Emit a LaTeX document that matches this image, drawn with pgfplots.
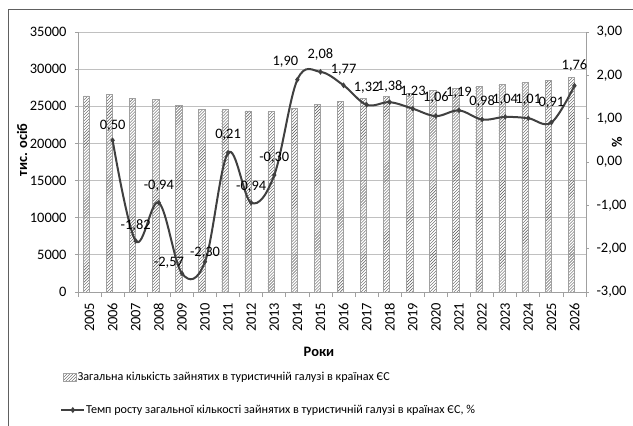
\documentclass[border=0pt]{standalone}
\usepackage{fontspec}
\setmainfont{Carlito}
\usepackage{pgfplots}
\usepackage{pgfplotstable}
\pgfplotsset{compat=1.18}
\usetikzlibrary{patterns}
\definecolor{linegray}{HTML}{404040}
\definecolor{gridgray}{HTML}{C0C0C0}
\definecolor{axisgray}{HTML}{A0A0A0}
\definecolor{hatch}{HTML}{555555}
\definecolor{bordergray}{HTML}{606060}

\pgfplotstableread{
x emp
0 26400
1 26600
2 26100
3 25900
4 25170
5 24600
6 24630
7 24370
8 24320
9 24730
10 25270
11 25710
12 26070
13 26380
14 26750
15 27100
16 27420
17 27640
18 27960
19 28230
20 28500
21 28940
}\emp

\pgfplotstableread{
x rate lab dx dy
1 0.50 0,50 0 -2.5
2 -1.82 -1,82 0 -2.5
3 -0.94 -0,94 0 0
4 -2.57 -2,57 -13 -7
5 -2.30 -2,30 0 -8.5
6 0.21 0,21 0 1
7 -0.94 -0,94 0 -1
8 -0.30 -0,30 0 0
9 1.90 1,90 -12 1
10 2.08 2,08 0 0
11 1.77 1,77 0 -1.5
12 1.32 1,32 0 -0.5
13 1.38 1,38 0 -1.5
14 1.23 1,23 0 0
15 1.06 1,06 0 1
16 1.19 1,19 0 0
17 0.98 0,98 0 1
18 1.04 1,04 0 0
19 1.01 1,01 0 1.5
20 0.91 0,91 0 2.5
21 1.76 1,76 0 2.5
}\rate

\newcommand{\fs}{\fontsize{14.5}{15}\selectfont}
\newcommand{\fl}{\fontsize{12.2}{13}\selectfont}

\begin{document}
\begin{tikzpicture}
\draw[bordergray, line width=0.8bp] (8bp,-440bp) -- (8bp,-9.5bp) -- (650bp,-9.5bp);

\begin{axis}[
  at={(78bp,-292bp)}, anchor=south west, scale only axis,
  width=508bp, height=260bp,
  xmin=-0.5, xmax=21.5, ymin=0, ymax=35000,
  axis x line*=bottom, axis y line*=left,
  axis line style={axisgray, line width=0.8bp},
  xtick={0,...,21},
  xticklabels={2005,2006,2007,2008,2009,2010,2011,2012,2013,2014,2015,2016,2017,2018,2019,2020,2021,2022,2023,2024,2025,2026},
  minor xtick={-0.5,0.5,...,21.5},
  major x tick style={draw=none},
  minor x tick style={axisgray, line width=0.8bp},
  ytick={0,5000,...,35000},
  y tick style={axisgray, line width=0.8bp},
  tick align=outside,
  major tick length=3bp, minor tick length=5bp,
  ymajorgrids, grid style={gridgray, line width=1bp},
  tick label style={font=\fs, text=black},
  x tick label style={rotate=90, anchor=east, inner xsep=7.5bp},
  y tick label style={xshift=-5bp},
  scaled y ticks=false,
  yticklabel style={/pgf/number format/1000 sep={}},
  /pgf/number format/assume math mode=true,
  clip=false,
  legend style={draw=none, fill=none, at={(-0.0295,-0.327)}, anchor=west, inner sep=0pt, font=\fl, nodes={inner xsep=1bp, inner ysep=0pt}},
  legend image code/.code={\draw[pattern=north east lines, pattern color=hatch, draw=axisgray] (0bp,-4bp) rectangle (13bp,4bp);},
]
\addplot[ybar, bar width=6.3bp, bar shift=-3.2bp, draw=axisgray, pattern=north east lines, pattern color=hatch] table[x=x,y=emp]{\emp};
\addlegendentry{Загальна кількість зайнятих в туристичній галузі в країнах ЄС}
\end{axis}

\begin{axis}[
  at={(78bp,-292bp)}, anchor=south west, scale only axis,
  width=508bp, height=260bp,
  xmin=-0.5, xmax=21.5, ymin=-3, ymax=3,
  axis y line*=right, axis x line=none,
  axis line style={axisgray, line width=0.8bp},
  ytick={-3,-2,...,3},
  tick align=outside, major tick length=3bp,
  y tick style={axisgray, line width=0.8bp},
  tick label style={font=\fs, text=black},
  y tick label style={xshift=4bp},
  yticklabel style={/pgf/number format/.cd, fixed, fixed zerofill, precision=2, use comma},
  /pgf/number format/assume math mode=true,
  clip=false,
  legend style={draw=none, fill=none, at={(-0.035,-0.454)}, anchor=west, inner sep=0pt, font=\fl, nodes={inner xsep=1bp, inner ysep=0pt}},
  legend image code/.code={\draw[mark repeat=2,mark phase=2,#1] plot coordinates {(0bp,0bp)(11.5bp,0bp)(23bp,0bp)};},
]
\addlegendimage{linegray, line width=1.8bp, mark=diamond*, mark size=1.6bp}
\addlegendentry{Темп росту загальної кількості зайнятих в туристичній галузі в країнах ЄС, \%}
\addplot[forget plot, smooth, tension=0.6, linegray, line width=2bp, mark=diamond*, mark size=1.3bp,
  point meta=explicit symbolic,
  visualization depends on={\thisrow{dx} \as \dx},
  visualization depends on={\thisrow{dy} \as \dy},
  nodes near coords,
  nodes near coords style={font=\fs, text=black, anchor=base, xshift=\dx*1bp, yshift=13.5bp+\dy*1bp, inner sep=0pt},
] table[x=x,y=rate,meta=lab]{\rate};
\end{axis}

\node[rotate=90, font=\fs\bfseries] at (22bp,-150bp) {тис. осіб};
\node[rotate=90, font=\fs\bfseries] at (617bp,-142bp) {\%};
\node[font=\fs\bfseries] at (319bp,-352bp) {Роки};

\pgfresetboundingbox
\useasboundingbox (0,0) rectangle (633bp,-426bp);
\end{tikzpicture}
\end{document}
